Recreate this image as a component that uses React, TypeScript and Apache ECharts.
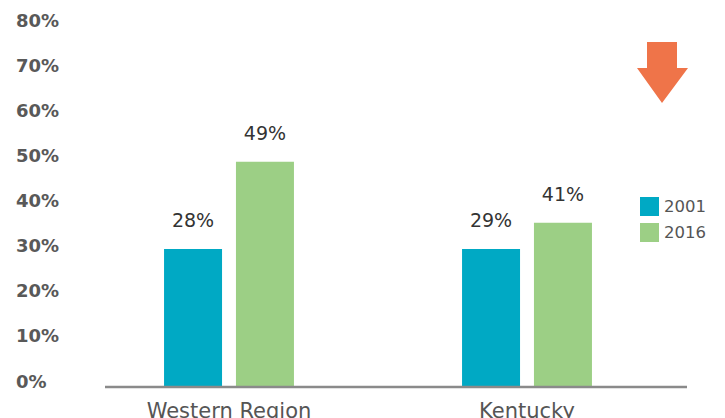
import React, { useEffect, useRef } from "react";
import * as echarts from "echarts";

const categories = ["Western Region", "Kentucky"];
const seriesNames = ["2001", "2016"];
const values2001 = [30.6, 30.6];
const values2016 = [49.9, 36.4];
const labels2001 = ["28%", "29%"];
const labels2016 = ["49%", "41%"];
const yTicks = [0, 10, 20, 30, 40, 50, 60, 70, 80];

const COLOR_2001 = "#00A9C4";
const COLOR_2016 = "#9CCF85";
const FONT = "DejaVu Sans";

export default function App() {
  const ref = useRef<HTMLDivElement>(null);
  useEffect(() => {
    if (!ref.current) return;
    const chart = echarts.init(ref.current, undefined, { renderer: "svg" });
    const labelStyle = {
      show: true,
      position: "top" as const,
      distance: 19,
      fontFamily: FONT,
      fontSize: 19,
      color: "#333333",
    };
    chart.setOption({
      animation: false,
      backgroundColor: "#ffffff",
      grid: { left: 80, right: 49, top: 26, bottom: 31, outerBoundsMode: "none", containLabel: false },
      legend: {
        orient: "vertical",
        left: 635,
        top: 192,
        itemWidth: 19,
        itemHeight: 19,
        itemGap: 7,
        icon: "rect",
        data: seriesNames,
        textStyle: { fontFamily: FONT, fontSize: 16.5, color: "#555555" },
      },
      xAxis: {
        type: "category",
        data: categories,
        axisLine: { show: false },
        axisTick: { show: false },
        axisLabel: { fontFamily: FONT, fontSize: 21, color: "#555555", margin: 13 },
      },
      yAxis: {
        type: "value",
        min: yTicks[0],
        max: yTicks[yTicks.length - 1],
        interval: 10,
        splitLine: { show: false },
        axisLine: { show: false },
        axisTick: { show: false },
        axisLabel: {
          formatter: (v: number) => `${v}%`,
          align: "left",
          margin: 64,
          fontFamily: FONT,
          fontSize: 18,
          fontWeight: "bold",
          color: "#595959",
          verticalAlign: "bottom",
          lineHeight: 12,
        },
      },
      series: [
        {
          name: seriesNames[0],
          type: "bar",
          data: values2001,
          barWidth: 58,
          barGap: "24%",
          itemStyle: { color: COLOR_2001 },
          label: { ...labelStyle, formatter: (p: any) => labels2001[p.dataIndex] },
        },
        {
          name: seriesNames[1],
          type: "bar",
          data: values2016,
          barWidth: 58,
          barGap: "24%",
          itemStyle: { color: COLOR_2016 },
          label: { ...labelStyle, formatter: (p: any) => labels2016[p.dataIndex] },
        },
      ],
      graphic: [
        {
          type: "line",
          shape: { x1: 105, y1: 387, x2: 687, y2: 387 },
          style: { stroke: "#8A8A8A", lineWidth: 2.5 },
          z: 10,
        },
        {
          type: "polygon",
          shape: {
            points: [
              [647, 42],
              [677, 42],
              [677, 68],
              [688, 68],
              [662, 103],
              [637, 68],
              [647, 68],
            ],
          },
          style: { fill: "#EF7449" },
        },
      ],
    });
    return () => chart.dispose();
  }, []);
  return (
    <div
      ref={ref}
      style={{ position: "fixed", left: 0, top: 0, width: 725, height: 418 }}
    />
  );
}
